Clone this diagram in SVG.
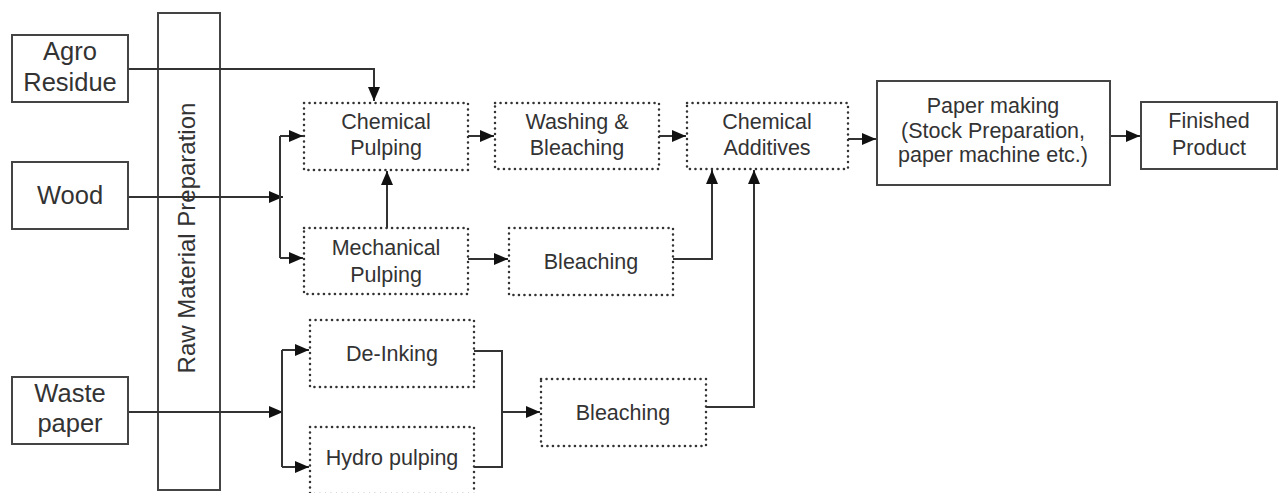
<svg xmlns="http://www.w3.org/2000/svg" width="1282" height="493" viewBox="0 0 1282 493">
<style>
.box{fill:#fff;stroke:#444;stroke-width:2}
.dot{fill:#fff;stroke:#333;stroke-width:2.5;stroke-dasharray:0.1 5.4;stroke-linecap:round}
.t{font-family:"Liberation Sans",Arial,sans-serif;fill:#333;text-anchor:middle}
.big{font-size:25.5px}
.sm{font-size:21.5px}
.raw{font-size:24px}
.ln{fill:none;stroke:#333;stroke-width:2}
</style>
<defs>
<marker id="ah" markerUnits="userSpaceOnUse" markerWidth="15" markerHeight="12" refX="14" refY="6" orient="auto">
<path d="M0,0 L14,6 L0,12 Z" fill="#111"/>
</marker>
</defs>
<g id="raw-material"><rect class="box" x="158" y="13" width="62" height="477"/><text class="t raw" transform="translate(195,238) rotate(-90)">Raw Material Preparation</text></g>
<g id="connectors">
<path class="ln" d="M128,69 H374 V101" marker-end="url(#ah)"/>
<path class="ln" d="M128,197 H283" marker-end="url(#ah)"/>
<path class="ln" d="M280,136 V258"/>
<path class="ln" d="M280,136 H303" marker-end="url(#ah)"/>
<path class="ln" d="M280,258 H303" marker-end="url(#ah)"/>
<path class="ln" d="M387,228 V171" marker-end="url(#ah)"/>
<path class="ln" d="M468,136 H494" marker-end="url(#ah)"/>
<path class="ln" d="M659,136 H686" marker-end="url(#ah)"/>
<path class="ln" d="M468,259 H508" marker-end="url(#ah)"/>
<path class="ln" d="M673,259 H712 V170" marker-end="url(#ah)"/>
<path class="ln" d="M706,407 H754 V170" marker-end="url(#ah)"/>
<path class="ln" d="M848,139 H876" marker-end="url(#ah)"/>
<path class="ln" d="M1110,136 H1140" marker-end="url(#ah)"/>
<path class="ln" d="M128,412 H283" marker-end="url(#ah)"/>
<path class="ln" d="M282,350 V467"/>
<path class="ln" d="M282,350 H309" marker-end="url(#ah)"/>
<path class="ln" d="M282,467 H309" marker-end="url(#ah)"/>
<path class="ln" d="M474,351 H502 V467 H474"/>
<path class="ln" d="M502,412 H540" marker-end="url(#ah)"/>
</g>
<g id="agro-residue"><rect class="box" x="12" y="35" width="116" height="67"/><text class="t big" x="70" y="60">Agro</text><text class="t big" x="70" y="91">Residue</text></g>
<g id="wood"><rect class="box" x="12" y="162" width="116" height="67"/><text class="t big" x="70" y="204">Wood</text></g>
<g id="waste-paper"><rect class="box" x="12" y="377" width="116" height="67"/><text class="t big" x="70" y="402">Waste</text><text class="t big" x="70" y="432">paper</text></g>
<g id="chemical-pulping"><rect class="dot" x="304" y="103" width="164" height="67"/><text class="t sm" x="386" y="129">Chemical</text><text class="t sm" x="386" y="155">Pulping</text></g>
<g id="mechanical-pulping"><rect class="dot" x="304" y="228" width="164" height="66"/><text class="t sm" x="386" y="255">Mechanical</text><text class="t sm" x="386" y="282">Pulping</text></g>
<g id="washing-bleaching"><rect class="dot" x="495" y="103" width="164" height="66"/><text class="t sm" x="577" y="129">Washing &amp;</text><text class="t sm" x="577" y="155">Bleaching</text></g>
<g id="chemical-additives"><rect class="dot" x="687" y="103" width="161" height="66"/><text class="t sm" x="767" y="129">Chemical</text><text class="t sm" x="767" y="155">Additives</text></g>
<g id="bleaching-1"><rect class="dot" x="509" y="228" width="164" height="67"/><text class="t sm" x="591" y="269">Bleaching</text></g>
<g id="de-inking"><rect class="dot" x="310" y="320" width="164" height="67"/><text class="t sm" x="392" y="361">De-Inking</text></g>
<g id="hydro-pulping"><rect class="dot" x="310" y="427" width="164" height="67"/><text class="t sm" x="392" y="465">Hydro pulping</text></g>
<g id="bleaching-2"><rect class="dot" x="541" y="379" width="165" height="67"/><text class="t sm" x="623" y="420">Bleaching</text></g>
<g id="paper-making"><rect class="box" x="877" y="81" width="233" height="104"/><text class="t sm" x="993" y="113">Paper making</text><text class="t sm" x="993" y="138">(Stock Preparation,</text><text class="t sm" x="993" y="162">paper machine etc.)</text></g>
<g id="finished-product"><rect class="box" x="1141" y="102" width="136" height="67"/><text class="t sm" x="1209" y="128">Finished</text><text class="t sm" x="1209" y="155">Product</text></g>
</svg>
